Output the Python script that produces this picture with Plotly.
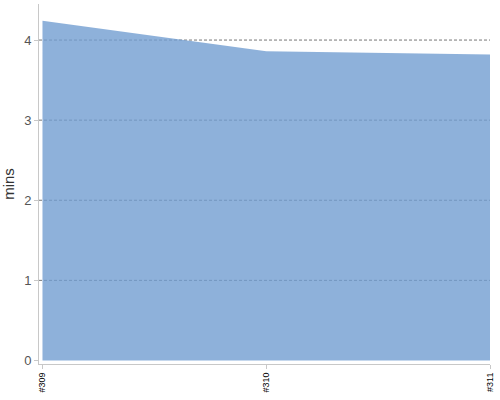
import plotly.graph_objects as go

categories = ["#309", "#310", "#311"]
values = [4.24, 3.86, 3.82]
y_ticks = [0, 1, 2, 3, 4]

fig = go.Figure()
fig.add_trace(go.Scatter(
    x=[0, 1, 2], y=values, mode="lines", fill="tozeroy",
    line=dict(color="rgba(114,158,209,0.8)", width=0), fillcolor="rgba(114,158,209,0.8)",
    hoverinfo="skip", showlegend=False,
))

for v in y_ticks[1:]:
    fig.add_shape(type="line", xref="paper", yref="y", x0=0, x1=1, y0=v, y1=v,
                  line=dict(color="#777", width=1, dash="3px,2px"), layer="below")

fig.update_layout(
    width=500, height=400,
    margin=dict(l=38.5, r=9.5, t=4, b=35.5),
    paper_bgcolor="white", plot_bgcolor="white",
    font=dict(family="Liberation Sans, Arial, sans-serif"),
    xaxis=dict(
        range=[-0.0156, 2.0], tickmode="array", tickvals=[0, 1, 2], ticktext=categories,
        tickangle=-90, tickfont=dict(size=9, color="#000"),
        showline=True, linecolor="#c8c8c8", linewidth=1,
        ticks="outside", ticklen=4, tickcolor="#c8c8c8",
        showgrid=False, zeroline=False, fixedrange=True, automargin=False,
    ),
    yaxis=dict(
        range=[-0.044, 4.45], tickmode="array", tickvals=y_ticks,
        tickfont=dict(size=13, color="#555"),
        showline=True, linecolor="#c8c8c8", linewidth=1,
        ticks="outside", ticklen=4, tickcolor="#c8c8c8",
        showgrid=False, zeroline=False, automargin=False,
        title=dict(text="mins", font=dict(size=15, color="#333"), standoff=8),
    ),
)

fig.write_html("out.html", config={"displayModeBar": False},
               post_script="document.body.style.margin='0';")
